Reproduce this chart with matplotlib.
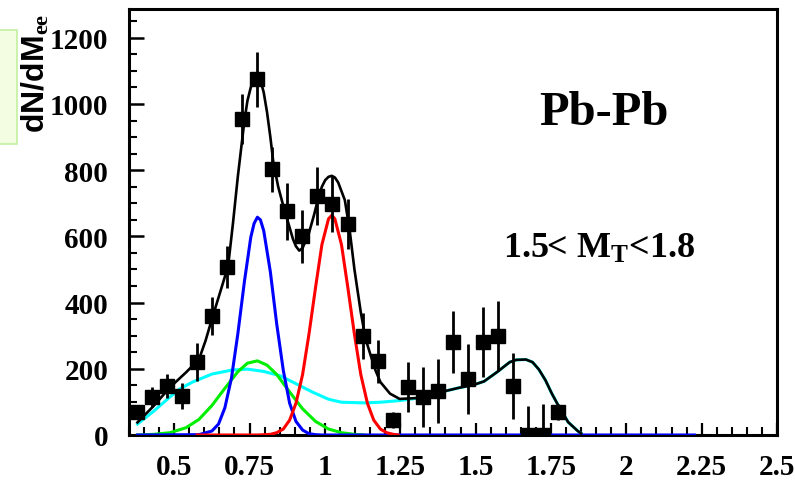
import matplotlib.pyplot as plt
from matplotlib.ticker import MultipleLocator
from matplotlib.patches import Rectangle

plt.rcParams['font.family'] = ['Liberation Serif', 'DejaVu Serif']
plt.rcParams['font.weight'] = 'bold'
plt.rcParams['mathtext.fontset'] = 'custom'
plt.rcParams['mathtext.rm'] = 'Liberation Serif:bold'
plt.rcParams['mathtext.it'] = 'Liberation Serif:bold'
plt.rcParams['mathtext.bf'] = 'Liberation Serif:bold'

# data points (mass bins of 0.05) with errors
mass = [0.375, 0.425, 0.475, 0.525, 0.575, 0.625, 0.675, 0.725, 0.775, 0.825,
        0.875, 0.925, 0.975, 1.025, 1.075, 1.125, 1.175, 1.225, 1.275, 1.325,
        1.375, 1.425, 1.475, 1.525, 1.575, 1.625, 1.675, 1.725, 1.775]
counts = [69, 115, 148, 118, 220, 359, 507, 954, 1075, 803,
          676, 601, 722, 698, 637, 299, 223, 45, 145, 115,
          133, 281, 169, 281, 299, 148, 0, 0, 69]
errors = [20, 30, 35, 40, 57, 57, 63, 75, 83, 68,
          86, 80, 89, 85, 75, 70, 65, 25, 77, 90,
          98, 95, 106, 105, 106, 101, 88, 95, 25]

# total fit (black)
fit_x = [0.378, 0.432, 0.486, 0.539, 0.582, 0.604, 0.625, 0.652, 0.679, 0.695,
         0.711, 0.733, 0.743, 0.754, 0.765, 0.776, 0.786, 0.797, 0.808, 0.819,
         0.829, 0.845, 0.862, 0.894, 0.904, 0.915, 0.926, 0.947, 0.964, 0.980,
         0.990, 1.001, 1.012, 1.023, 1.033, 1.044, 1.066, 1.082, 1.098, 1.119,
         1.135, 1.152, 1.168, 1.184, 1.216, 1.248, 1.313, 1.377, 1.442, 1.495,
         1.528, 1.571, 1.613, 1.635, 1.667, 1.689, 1.710, 1.732, 1.753, 1.775,
         1.807, 1.839, 1.850]
fit_y = [38, 88, 144, 189, 228, 285, 350, 430, 511, 640,
         780, 950, 1010, 1050, 1072, 1080, 1072, 1035, 975, 900,
         823, 750, 692, 592, 570, 557, 565, 610, 665, 723,
         750, 770, 780, 783, 778, 763, 710, 620, 500, 371,
         290, 240, 195, 160, 125, 109, 112, 128, 142, 152,
         162, 190, 220, 227, 228, 220, 198, 165, 125, 88,
         39, 12, 5]

# background (cyan)
bg_x = [0.378, 0.432, 0.486, 0.518, 0.561, 0.625, 0.690, 0.743, 0.797, 0.851,
        0.904, 0.958, 1.012, 1.055, 1.130, 1.184, 1.248, 1.313, 1.377, 1.442,
        1.495, 1.528, 1.571, 1.613, 1.635, 1.667, 1.689, 1.710, 1.732, 1.753,
        1.775, 1.807, 1.839, 1.850]
bg_y = [33, 72, 115, 139, 160, 184, 196, 199, 192, 179,
        155, 130, 108, 99, 97, 99, 104, 112, 128, 142,
        152, 162, 190, 220, 227, 228, 220, 198, 165, 125,
        88, 39, 12, 5]

# rho peak (blue)
rho_x = [0.378, 0.582, 0.625, 0.647, 0.668, 0.690, 0.711, 0.733, 0.754, 0.765,
         0.776, 0.786, 0.797, 0.819, 0.840, 0.862, 0.883, 0.904, 0.926, 0.947,
         0.969, 0.990, 2.226]
rho_y = [0, 1, 12, 33, 82, 172, 305, 464, 597, 639,
         658, 650, 617, 493, 336, 195, 96, 41, 15, 4,
         1, 0, 0]

# phi peak (red)
phi_x = [0.576, 0.776, 0.819, 0.840, 0.862, 0.883, 0.904, 0.926, 0.947, 0.969,
         0.990, 1.012, 1.023, 1.033, 1.055, 1.076, 1.098, 1.119, 1.141, 1.162,
         1.184, 1.205, 1.227, 1.243]
phi_y = [0, 0, 2, 7, 18, 45, 96, 183, 304, 446,
         575, 653, 664, 653, 575, 446, 304, 183, 96, 45,
         18, 7, 2, 0]

# omega peak (green)
omega_x = [0.378, 0.432, 0.486, 0.539, 0.582, 0.625, 0.668, 0.711, 0.743, 0.776,
           0.808, 0.840, 0.883, 0.926, 0.969, 1.012, 1.055, 1.098, 1.130]
omega_y = [0, 2, 7, 22, 47, 89, 141, 191, 217, 224,
           211, 183, 130, 79, 41, 18, 7, 2, 0]

tick_lab = ['0.5', '0.75', '1', '1.25', '1.5', '1.75', '2', '2.25', '2.5']

fig = plt.figure(figsize=(7.95, 4.81), dpi=100)
ax = fig.add_axes([129 / 795, 1 - 436 / 481, 648 / 795, 426 / 481])

ax.plot(bg_x, bg_y, color='#00ffff', lw=2.2, zorder=3)
ax.plot(omega_x, omega_y, color='#00ee00', lw=2.2, zorder=3)
ax.plot(rho_x, rho_y, color='#0000ff', lw=2.2, zorder=3.1)
ax.plot(phi_x, phi_y, color='#ff0000', lw=2.2, zorder=3.1)
ax.plot(fit_x, fit_y, color='black', lw=1.9, zorder=3.2)
ax.errorbar(mass, counts, yerr=errors, fmt='s', color='black', ms=9.5,
            elinewidth=2, capsize=0, zorder=4)

ax.set_xlim(0.35, 2.5)
ax.set_ylim(0, 1287)

ax.xaxis.set_minor_locator(MultipleLocator(0.05))
ax.set_xticks([0.5, 0.75, 1.0, 1.25, 1.5, 1.75, 2.0, 2.25, 2.5], tick_lab)
ax.yaxis.set_major_locator(MultipleLocator(200))
ax.yaxis.set_minor_locator(MultipleLocator(50))

ax.tick_params(axis='x', which='major', direction='in', length=9, width=1.6,
               pad=13, labelsize=21)
ax.tick_params(axis='x', which='minor', direction='in', length=5.5, width=1.5)
ax.tick_params(axis='y', which='major', direction='in', length=11, width=1.8,
               pad=15, labelsize=21)
ax.tick_params(axis='y', which='minor', direction='in', length=6, width=1.5)

for s in ax.spines.values():
    s.set_linewidth(2.2)

ax.text(1.925, 975, 'Pb-Pb', fontsize=35, ha='center', va='center')
ax.text(1.91, 565, '1.5< M$_T$<1.8', fontsize=26, ha='center', va='center')

fig.text(36 / 795, 1 - 14 / 481, 'dN/dM$_{ee}$', rotation=90, ha='center',
         va='top', fontsize=23, fontweight='bold',
         family=['Liberation Sans', 'DejaVu Sans'])

fig.patches.append(Rectangle((-0.01, 1 - 145 / 481), 17 / 795 + 0.01, 114 / 481,
                             transform=fig.transFigure, facecolor='#f2fde2',
                             edgecolor='#c4f0a0', lw=1.2))

fig.savefig('out.png', dpi=100)
